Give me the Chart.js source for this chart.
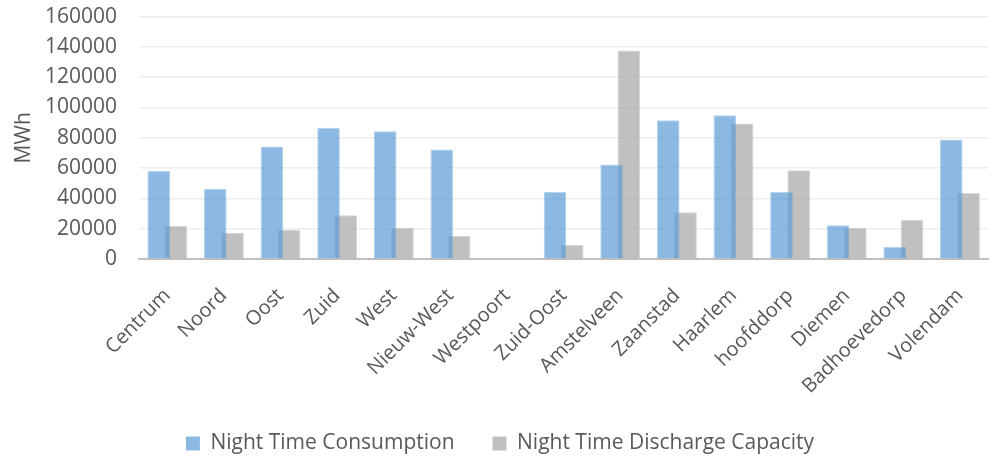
<!DOCTYPE html>
<html>
<head>
<meta charset="utf-8">
<script src="https://cdn.jsdelivr.net/npm/chart.js@4"></script>
<style>
  html, body { margin: 0; padding: 0; background: #ffffff; overflow: hidden; }
  #wrap { width: 1002px; height: 482px; margin-top: -18px; position: relative; }
</style>
</head>
<body>
<div id="wrap"><canvas id="chart"></canvas></div>
<script>
// Districts and nearby towns
const districts = ['Centrum', 'Noord', 'Oost', 'Zuid', 'West', 'Nieuw-West', 'Westpoort', 'Zuid-Oost',
  'Amstelveen', 'Zaanstad', 'Haarlem', 'hoofddorp', 'Diemen', 'Badhoevedorp', 'Volendam'];

// Night-time energy use per district (MWh)
const nightConsumption = [58300, 46400, 74200, 86600, 84300, 72200, 0, 44200,
  62300, 91600, 94900, 44200, 22200, 7900, 78800];

// Night-time discharge capacity per district (MWh)
const nightDischarge = [22000, 17300, 19300, 28800, 20400, 15100, 0, 9400,
  137700, 30800, 89400, 58500, 20400, 25700, 43600];

// Value axis ticks
const yTicks = [0, 20000, 40000, 60000, 80000, 100000, 120000, 140000, 160000];

const FONT = "'Open Sans', 'Noto Sans', sans-serif";
const TEXT = '#595959';

new Chart(document.getElementById('chart'), {
  type: 'bar',
  data: {
    labels: districts,
    datasets: [
      {
        label: 'Night Time Consumption',
        data: nightConsumption,
        backgroundColor: 'rgba(91,155,213,0.7)',
        borderColor: 'rgba(91,155,213,0.45)',
        borderWidth: 1,
        borderSkipped: 'bottom',
        categoryPercentage: 0.61,
        barPercentage: 1.31
      },
      {
        label: 'Night Time Discharge Capacity',
        data: nightDischarge,
        backgroundColor: 'rgba(165,165,165,0.7)',
        borderColor: 'rgba(165,165,165,0.45)',
        borderWidth: 1,
        borderSkipped: 'bottom',
        categoryPercentage: 0.61,
        barPercentage: 1.31
      }
    ]
  },
  options: {
    responsive: true,
    maintainAspectRatio: false,
    animation: false,
    layout: { padding: { top: 0, right: 2, left: 0, bottom: 0 } },
    plugins: {
      tooltip: { enabled: false },
      legend: {
        position: 'bottom',
        labels: {
          font: { family: FONT, size: 21 },
          color: TEXT,
          boxWidth: 14,
          boxHeight: 14,
          padding: 38,
          generateLabels: (chart) => chart.data.datasets.map((ds, i) => ({
            text: ds.label,
            fillStyle: ds.backgroundColor,
            strokeStyle: ds.backgroundColor,
            lineWidth: 0,
            fontColor: TEXT,
            hidden: !chart.isDatasetVisible(i),
            datasetIndex: i
          }))
        }
      }
    },
    scales: {
      x: {
        grid: { display: false, drawTicks: false },
        border: { display: true, color: '#BFBFBF', width: 2 },
        ticks: {
          font: { family: FONT, size: 20 },
          color: TEXT,
          minRotation: 45,
          maxRotation: 45,
          padding: 25,
          autoSkip: false
        },
        // fixed band for the slanted labels, leaving a gap above the legend
        afterFit: (scale) => { scale.height = 136; }
      },
      y: {
        min: 0,
        max: 160000,
        afterBuildTicks: (axis) => { axis.ticks = yTicks.map(v => ({ value: v })); },
        afterFit: (scale) => { scale.width = 139; },
        grid: { color: '#EEEEEE', lineWidth: 1.5, drawTicks: false },
        border: { display: false },
        title: {
          display: true,
          text: 'MWh',
          font: { family: FONT, size: 21 },
          color: TEXT,
          padding: { top: 11, bottom: 8 }
        },
        ticks: {
          font: { family: FONT, size: 21 },
          color: TEXT,
          padding: 22,
          autoSkip: false,
          callback: (v) => String(v)
        }
      }
    }
  }
});
</script>
</body>
</html>
